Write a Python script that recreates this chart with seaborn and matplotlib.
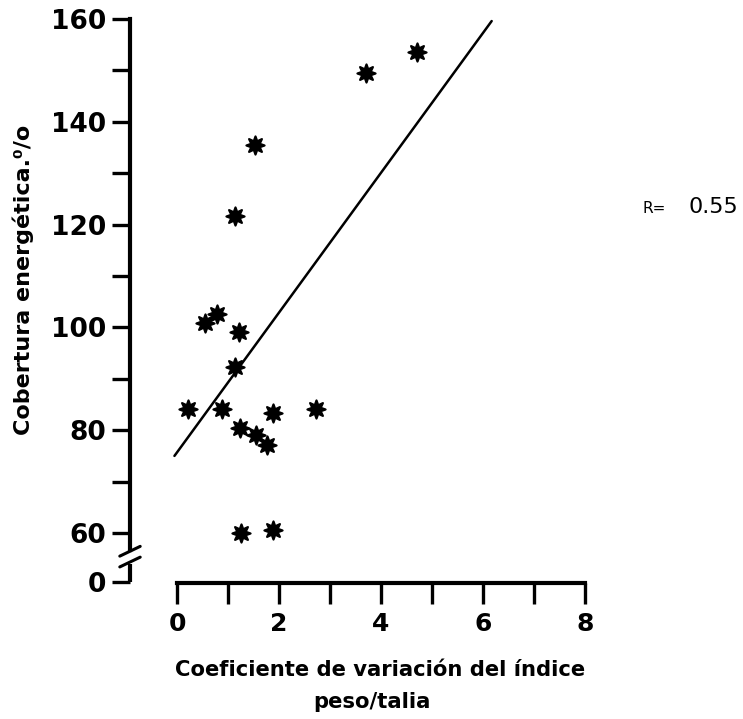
import matplotlib
matplotlib.use("Agg")
import matplotlib.pyplot as plt
import seaborn as sns
import pandas as pd

# ---- data ----
coef_var = [0.22, 0.55, 0.78, 1.22, 1.14, 0.88, 1.14, 1.53, 1.24, 1.55, 1.76,
            1.88, 2.73, 1.25, 1.88, 3.71, 4.71]
cobertura = [84.1, 100.9, 102.6, 99.1, 92.3, 84.1, 121.7, 135.5, 80.4, 79.1,
             77.1, 83.3, 84.1, 60.0, 60.6, 149.5, 153.6]
line_x = [-0.05, 6.17]
line_y = [75.0, 159.6]
x_ticks = [0, 1, 2, 3, 4, 5, 6, 7, 8]
x_ticklabels = ["0", "", "2", "", "4", "", "6", "", "8"]
y_ticks = [50.5, 60, 70, 80, 90, 100, 110, 120, 130, 140, 150, 160]
y_ticklabels = ["0", "60", "", "80", "", "100", "", "120", "", "140", "", "160"]
r_label = "R="
r_value = "0.55"

sns.set_style("ticks")
plt.rcParams["font.family"] = ["DejaVu Sans"]
plt.rcParams["text.color"] = "black"
plt.rcParams["xtick.color"] = "black"
plt.rcParams["ytick.color"] = "black"

df = pd.DataFrame({"x": coef_var, "y": cobertura})
line_df = pd.DataFrame({"x": line_x, "y": line_y})

fig = plt.figure(figsize=(7.43, 7.19), dpi=100)
W, H = 743, 719
ax_left, ax_right, ax_top, ax_bottom = 130, 600, 14, 583
ax = fig.add_axes([ax_left / W, 1 - ax_bottom / H,
                   (ax_right - ax_left) / W, (ax_bottom - ax_top) / H])

xpp = 51.0   # px per x unit
ypp = 5.14   # px per y unit
ax.set_xlim((ax_left - 177) / xpp, (ax_right - 177) / xpp)
ax.set_ylim(160 - (ax_bottom - 19) / ypp, 160 + (19 - ax_top) / ypp)

sns.scatterplot(data=df, x="x", y="y", ax=ax, marker=(8, 1, 0), s=170,
                color="black", edgecolor="black", linewidth=1.6, zorder=3)
sns.lineplot(data=line_df, x="x", y="y", ax=ax, color="black", linewidth=1.8,
             sort=False)

for s in ["top", "right"]:
    ax.spines[s].set_visible(False)
for s in ["left", "bottom"]:
    ax.spines[s].set_linewidth(3.0)
    ax.spines[s].set_color("black")
ax.spines["bottom"].set_bounds(0, 8)
ax.spines["left"].set_bounds(56.6, 160)

x0 = ax.get_xlim()[0]
# lower segment of broken y axis and break marks
ax.plot([x0, x0], [50.5, 54.0], color="black", lw=3.0, clip_on=False,
        solid_capstyle="butt")
ax.plot([x0 - 0.2, x0 + 0.2], [53.4, 55.3], color="black", lw=2.2, clip_on=False)
ax.plot([x0 - 0.2, x0 + 0.2], [55.5, 57.4], color="black", lw=2.2, clip_on=False)

ax.set_xticks(x_ticks)
ax.set_xticklabels(x_ticklabels, fontsize=18, fontweight="bold", color="black")
ax.set_yticks(y_ticks)
ax.set_yticklabels(y_ticklabels, fontsize=19, fontweight="bold", color="black")
ax.tick_params(axis="x", direction="out", length=15, width=2.4, pad=6,
               colors="black")
ax.tick_params(axis="y", direction="out", length=13, width=2.4, pad=4,
               colors="black")
ax.set_xlabel("")
ax.set_ylabel("")

fig.text(380 / W, 1 - 676 / H, "Coeficiente de variación del índice",
         ha="center", va="baseline", fontsize=15.2, fontweight="bold",
         color="black")
fig.text(372 / W, 1 - 708 / H, "peso/talia",
         ha="center", va="baseline", fontsize=15.2, fontweight="bold",
         color="black")
fig.text(23 / W, 1 - 280 / H, "Cobertura energética.⁰/o", rotation=90,
         ha="center", va="center", fontsize=16, fontweight="bold",
         color="black")

fig.text(643 / W, 1 - 213 / H, r_label, ha="left", va="baseline", fontsize=11,
         color="black")
fig.text(689 / W, 1 - 213 / H, r_value, ha="left", va="baseline", fontsize=16,
         color="black")

fig.savefig("out.png", dpi=100)
